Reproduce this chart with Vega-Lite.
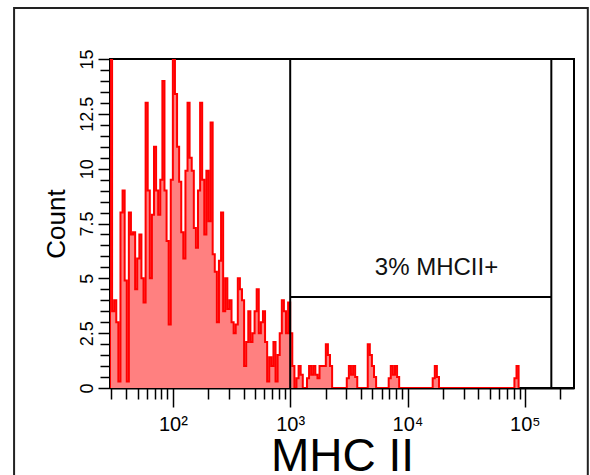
{
  "$schema": "https://vega.github.io/schema/vega-lite/v6.json",
  "width": 464,
  "height": 329,
  "autosize": {"type": "none"},
  "padding": {"left": 110, "top": 59, "right": 16, "bottom": 87},
  "background": "white",
  "config": {
    "view": {"stroke": "black", "strokeWidth": 2},
    "font": "Liberation Sans",
    "axis": {
      "grid": false, "zindex": 1, "domainColor": "black", "domainWidth": 2,
      "tickColor": "black", "tickWidth": 1.5, "labelColor": "black", "titleColor": "black",
      "labelFont": "Liberation Sans", "titleFont": "Liberation Sans", "titleFontWeight": "normal",
      "labelFlush": false, "labelOverlap": false
    }
  },
  "datasets": {
    "hist": [
      {"mhc": 29.0, "count": 0}, {"mhc": 29.13, "count": 15}, {"mhc": 30.35, "count": 3.5}, {"mhc": 31.62, "count": 4.0},
      {"mhc": 32.95, "count": 3.0}, {"mhc": 34.33, "count": 0.3}, {"mhc": 35.77, "count": 8.0}, {"mhc": 37.28, "count": 9.0},
      {"mhc": 38.84, "count": 4.9}, {"mhc": 40.47, "count": 0.3}, {"mhc": 42.17, "count": 8.0}, {"mhc": 43.94, "count": 7.0},
      {"mhc": 45.79, "count": 7.1}, {"mhc": 47.71, "count": 4.5}, {"mhc": 49.71, "count": 5.9}, {"mhc": 51.80, "count": 7.0},
      {"mhc": 53.97, "count": 5.0}, {"mhc": 56.23, "count": 3.9}, {"mhc": 58.59, "count": 13.0}, {"mhc": 61.05, "count": 9.0},
      {"mhc": 63.62, "count": 5.0}, {"mhc": 66.29, "count": 7.9}, {"mhc": 69.07, "count": 11.0}, {"mhc": 71.97, "count": 9.0},
      {"mhc": 74.99, "count": 7.9}, {"mhc": 78.14, "count": 9.5}, {"mhc": 81.42, "count": 14.0}, {"mhc": 84.84, "count": 9.0},
      {"mhc": 88.40, "count": 6.7}, {"mhc": 92.11, "count": 2.9}, {"mhc": 95.97, "count": 9.5}, {"mhc": 100.0, "count": 15.0},
      {"mhc": 104.2, "count": 13.4}, {"mhc": 108.6, "count": 11.0}, {"mhc": 113.1, "count": 9.4}, {"mhc": 117.9, "count": 7.1},
      {"mhc": 122.8, "count": 5.9}, {"mhc": 128.0, "count": 9.9}, {"mhc": 133.4, "count": 13.0}, {"mhc": 138.9, "count": 10.5},
      {"mhc": 144.8, "count": 9.9}, {"mhc": 150.9, "count": 7.3}, {"mhc": 157.2, "count": 6.4}, {"mhc": 163.8, "count": 9.0},
      {"mhc": 170.7, "count": 13.0}, {"mhc": 177.8, "count": 9.5}, {"mhc": 185.3, "count": 7.0}, {"mhc": 193.1, "count": 9.9},
      {"mhc": 201.2, "count": 7.6}, {"mhc": 209.6, "count": 12.1}, {"mhc": 218.4, "count": 6.1}, {"mhc": 227.6, "count": 5.3},
      {"mhc": 237.1, "count": 3.0}, {"mhc": 247.1, "count": 5.8}, {"mhc": 257.5, "count": 8.0}, {"mhc": 268.3, "count": 3.5},
      {"mhc": 279.5, "count": 5.0}, {"mhc": 291.3, "count": 3.6}, {"mhc": 303.5, "count": 4.0}, {"mhc": 316.2, "count": 3.0},
      {"mhc": 329.5, "count": 2.5}, {"mhc": 343.3, "count": 2.9}, {"mhc": 357.7, "count": 5.0}, {"mhc": 372.8, "count": 4.5},
      {"mhc": 388.4, "count": 4.0}, {"mhc": 404.7, "count": 1.0}, {"mhc": 421.7, "count": 2.1}, {"mhc": 439.4, "count": 3.5},
      {"mhc": 457.9, "count": 2.1}, {"mhc": 477.1, "count": 2.5}, {"mhc": 497.1, "count": 3.5}, {"mhc": 518.0, "count": 4.5},
      {"mhc": 539.7, "count": 2.5}, {"mhc": 562.3, "count": 3.0}, {"mhc": 585.9, "count": 3.5}, {"mhc": 610.5, "count": 2.1},
      {"mhc": 636.2, "count": 0.3}, {"mhc": 662.9, "count": 1.4}, {"mhc": 690.7, "count": 1.0}, {"mhc": 719.7, "count": 2.1},
      {"mhc": 749.9, "count": 0.3}, {"mhc": 781.4, "count": 1.5}, {"mhc": 814.2, "count": 2.5}, {"mhc": 848.4, "count": 4.0},
      {"mhc": 884.0, "count": 3.5}, {"mhc": 921.1, "count": 2.5}, {"mhc": 959.7, "count": 3.9}, {"mhc": 1000, "count": 2.5},
      {"mhc": 1042, "count": 1.0}, {"mhc": 1086, "count": 0}, {"mhc": 1131, "count": 0.45}, {"mhc": 1179, "count": 1.0},
      {"mhc": 1228, "count": 0.6}, {"mhc": 1280, "count": 0}, {"mhc": 1390, "count": 0.45}, {"mhc": 1448, "count": 1.0},
      {"mhc": 1509, "count": 0.6}, {"mhc": 1572, "count": 1.0}, {"mhc": 1638, "count": 0.6}, {"mhc": 1707, "count": 0.45},
      {"mhc": 1778, "count": 1.0}, {"mhc": 1853, "count": 1.0}, {"mhc": 1931, "count": 1.0}, {"mhc": 2012, "count": 2.0},
      {"mhc": 2096, "count": 1.5}, {"mhc": 2184, "count": 1.0}, {"mhc": 2276, "count": 0},
      {"mhc": 3035, "count": 0.45}, {"mhc": 3162, "count": 1.0}, {"mhc": 3295, "count": 0.6}, {"mhc": 3433, "count": 1.0},
      {"mhc": 3577, "count": 0.5}, {"mhc": 3728, "count": 0},
      {"mhc": 4579, "count": 2.0}, {"mhc": 4771, "count": 1.5}, {"mhc": 4971, "count": 1.0}, {"mhc": 5180, "count": 0.5},
      {"mhc": 5397, "count": 0},
      {"mhc": 6907, "count": 0.45}, {"mhc": 7197, "count": 1.0}, {"mhc": 7499, "count": 0.6}, {"mhc": 7814, "count": 1.0},
      {"mhc": 8142, "count": 0.5}, {"mhc": 8484, "count": 0},
      {"mhc": 16379, "count": 0.45}, {"mhc": 17067, "count": 1.0}, {"mhc": 17783, "count": 0.5}, {"mhc": 18529, "count": 0},
      {"mhc": 81419, "count": 0.45}, {"mhc": 84836, "count": 1.0}, {"mhc": 88398, "count": 0}
    ],
    "edges": [{"edge": 1000}, {"edge": 168000}],
    "gate": [{"lo": 1000, "hi": 168000, "level": 4.15}],
    "note": [{"label": "3% MHCII+", "mhc": 17650, "count": 5.15}]
  },
  "resolve": {"axis": {"x": "independent", "y": "independent"}},
  "layer": [
    {
      "data": {"values": [{}]},
      "mark": {"type": "rect", "fillOpacity": 0, "stroke": "#222222", "strokeWidth": 2, "clip": false},
      "encoding": {
        "x": {"datum": 4.435, "type": "quantitative", "scale": {"type": "log", "domain": [29.13, 262144], "nice": false}, "axis": null},
        "x2": {"datum": 343700},
        "y": {"datum": 17.33, "type": "quantitative", "scale": {"domain": [0, 15], "nice": false}, "axis": null},
        "y2": {"datum": -4.7}
      }
    },
    {
      "data": {"name": "hist"},
      "mark": {"type": "area", "interpolate": "step-after", "fill": "#ff8080", "clip": true},
      "encoding": {
        "x": {
          "field": "mhc", "type": "quantitative",
          "scale": {"type": "log", "domain": [29.13, 262144], "nice": false},
          "axis": {
            "orient": "bottom", "values": [100, 1000, 10000, 100000], "tickSize": 19,
            "labelExpr": "datum.value == 100 ? '10\u00b2' : datum.value == 1000 ? '10\u00b3' : datum.value == 10000 ? '10\u2074' : '10\u2075'",
            "labelFontSize": 20, "labelPadding": 7, "labelBaseline": "top", "labelAlign": "center",
            "title": "MHC II", "titleFontSize": 46, "titlePadding": 0
          }
        },
        "y": {
          "field": "count", "type": "quantitative",
          "scale": {"domain": [0, 15], "nice": false},
          "axis": {
            "orient": "left", "values": [0, 2.5, 5, 7.5, 10, 12.5, 15], "tickSize": 12,
            "labelExpr": "datum.value + ''", "labelAngle": 270, "labelAlign": "center", "labelBaseline": "alphabetic",
            "labelFontSize": 18, "labelPadding": 6,
            "title": "Count", "titleFontSize": 26, "titlePadding": 9
          }
        }
      }
    },
    {
      "data": {"name": "hist"},
      "mark": {"type": "line", "interpolate": "step-after", "stroke": "#ff0000", "strokeWidth": 2, "clip": true},
      "encoding": {
        "x": {
          "field": "mhc", "type": "quantitative",
          "scale": {"type": "log", "domain": [29.13, 262144], "nice": false},
          "axis": {
            "orient": "bottom",
            "values": [30, 40, 50, 60, 70, 80, 90, 200, 300, 400, 500, 600, 700, 800, 900, 2000, 3000, 4000, 5000, 6000, 7000, 8000, 9000, 20000, 30000, 40000, 50000, 60000, 70000, 80000, 90000, 200000],
            "tickSize": 11, "labels": false, "domain": false, "title": null
          }
        },
        "y": {
          "field": "count", "type": "quantitative",
          "scale": {"domain": [0, 15], "nice": false},
          "axis": {
            "orient": "left",
            "values": [0.5, 1, 1.5, 2, 3, 3.5, 4, 4.5, 5.5, 6, 6.5, 7, 8, 8.5, 9, 9.5, 10.5, 11, 11.5, 12, 13, 13.5, 14, 14.5],
            "tickSize": 10, "labels": false, "domain": false, "title": null
          }
        }
      }
    },
    {
      "data": {"name": "edges"},
      "mark": {"type": "rule", "color": "black", "strokeWidth": 2},
      "encoding": {
        "x": {"field": "edge", "type": "quantitative", "scale": {"type": "log", "domain": [29.13, 262144], "nice": false}, "axis": null}
      }
    },
    {
      "data": {"name": "gate"},
      "mark": {"type": "rule", "color": "black", "strokeWidth": 2},
      "encoding": {
        "x": {"field": "lo", "type": "quantitative", "scale": {"type": "log", "domain": [29.13, 262144], "nice": false}, "axis": null},
        "x2": {"field": "hi"},
        "y": {"field": "level", "type": "quantitative", "scale": {"domain": [0, 15], "nice": false}, "axis": null}
      }
    },
    {
      "data": {"name": "note"},
      "mark": {"type": "text", "fontSize": 24, "font": "Liberation Sans", "color": "#111111", "align": "center", "baseline": "alphabetic"},
      "encoding": {
        "x": {"field": "mhc", "type": "quantitative", "scale": {"type": "log", "domain": [29.13, 262144], "nice": false}, "axis": null},
        "y": {"field": "count", "type": "quantitative", "scale": {"domain": [0, 15], "nice": false}, "axis": null},
        "text": {"field": "label"}
      }
    }
  ]
}
